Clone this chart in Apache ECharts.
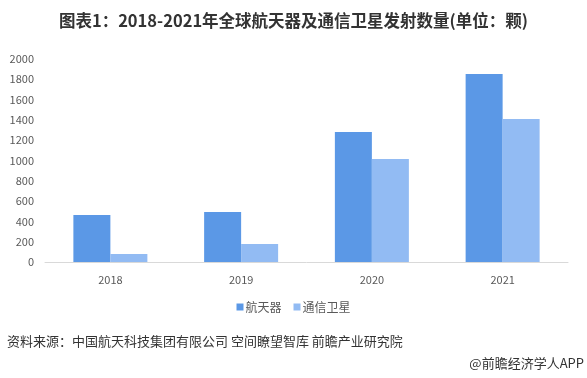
<!DOCTYPE html>
<html style="height: 100%">
<head>
    <meta charset="utf-8">
</head>
<body style="height: 100%; margin: 0; background: #fff">
    <div id="container" style="width: 587px; height: 378px"></div>
    <script src="https://cdn.jsdelivr.net/npm/echarts@6/dist/echarts.min.js"></script>
    <script type="text/javascript">
        // 年份
        var years = ['2018', '2019', '2020', '2021'];
        // 全球航天器发射数量(颗)
        var spacecraft = [463, 493, 1281, 1852];
        // 通信卫星发射数量(颗)
        var commSat = [80, 177, 1015, 1409];

        var seriesNames = ['航天器', '通信卫星'];
        var titleText = '图表1：2018-2021年全球航天器及通信卫星发射数量(单位：颗)';
        var sourceText = '资料来源：中国航天科技集团有限公司 空间瞭望智库 前瞻产业研究院';
        var brandText = '@前瞻经济学人APP';

        var dom = document.getElementById('container');
        var myChart = echarts.init(dom);
        var font = '"Microsoft YaHei", "Noto Sans CJK SC", sans-serif';

        var option = {
            animation: false,
            textStyle: { fontFamily: font },
            title: [{
                text: titleText,
                left: 'center',
                top: 7,
                textStyle: { fontSize: 16.5, fontWeight: 'bold', color: '#333', fontFamily: font }
            }],
            graphic: [{
                type: 'text',
                left: 7,
                top: 335,
                style: { text: sourceText, fill: '#333', font: '13px ' + font }
            }, {
                type: 'text',
                right: 3,
                top: 357,
                style: { text: brandText, fill: '#333', font: '13px ' + font }
            }],
            legend: {
                data: seriesNames,
                top: 296,
                left: 'center',
                itemWidth: 7,
                itemHeight: 7,
                itemGap: 12,
                icon: 'rect',
                textStyle: { fontSize: 12, color: '#595959', padding: [0, 0, 0, -3] }
            },
            grid: {
                left: 45,
                right: 19,
                top: 59,
                bottom: 116
            },
            xAxis: {
                type: 'category',
                data: years,
                axisLine: { lineStyle: { color: '#d9d9d9' } },
                axisTick: { show: false },
                axisLabel: { color: '#595959', fontSize: 11, margin: 12 }
            },
            yAxis: {
                type: 'value',
                min: 0,
                max: 2000,
                interval: 200,
                splitLine: { show: false },
                axisLine: { show: false },
                axisTick: { show: false },
                axisLabel: {
                    color: '#595959',
                    fontSize: 11,
                    margin: 11,
                    formatter: function(v) { return String(v); }
                }
            },
            series: [{
                name: seriesNames[0],
                type: 'bar',
                data: spacecraft,
                barWidth: 37,
                barGap: '0%',
                itemStyle: { color: '#5b98e6' }
            }, {
                name: seriesNames[1],
                type: 'bar',
                data: commSat,
                barWidth: 37,
                barGap: '0%',
                itemStyle: { color: '#92bbf3' }
            }]
        };

        myChart.setOption(option);
    </script>
</body>
</html>
